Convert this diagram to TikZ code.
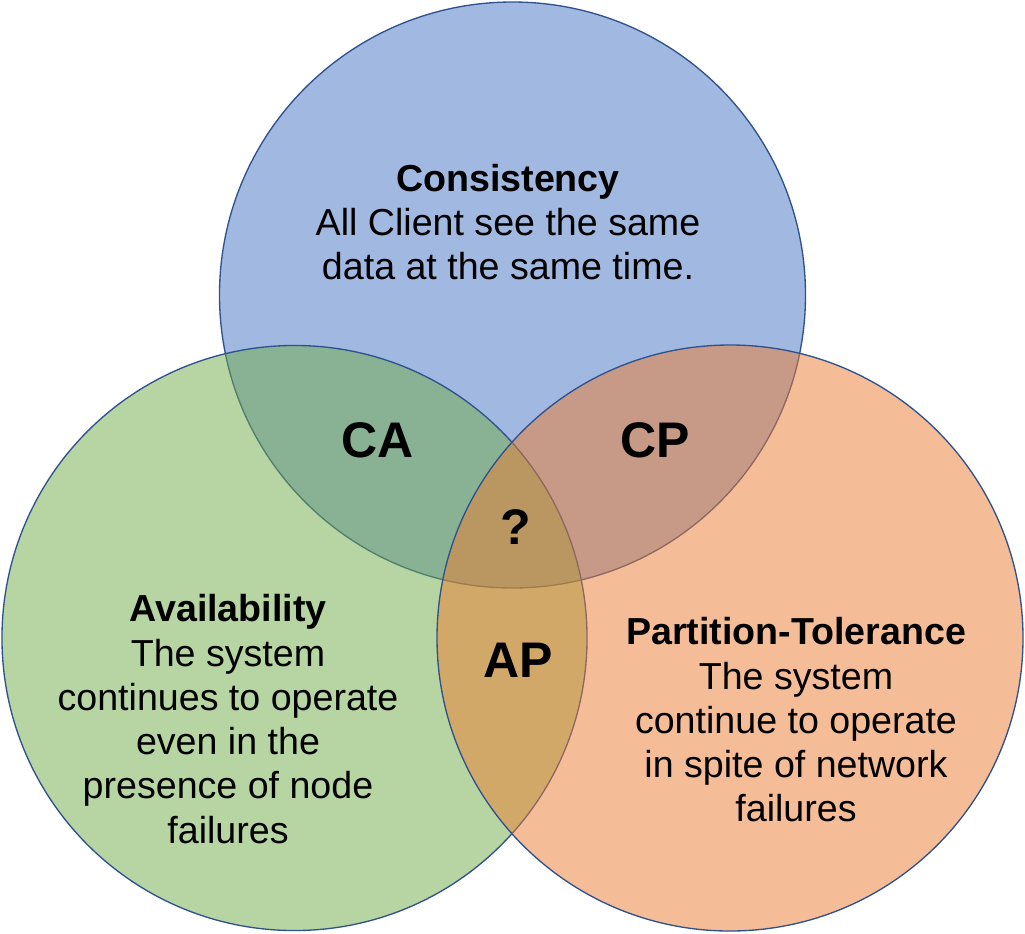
\documentclass[tikz,border=0pt]{standalone}
\usepackage{fontspec}
\setmainfont{Liberation Sans}
\definecolor{cblue}{HTML}{4472C4}
\definecolor{cgreen}{HTML}{70AD47}
\definecolor{corange}{HTML}{ED7D31}
\definecolor{cline}{HTML}{2F528F}
\begin{document}
\begin{tikzpicture}[x=0.75pt,y=-0.75pt,
  setbox/.style={draw=cline,line width=1pt,fill opacity=0.5},
  body/.style={align=center,inner sep=0pt,font=\fontsize{28.2}{33.2}\selectfont},
  pair/.style={inner sep=0pt,font=\fontsize{37.5}{45}\selectfont\bfseries}]
\useasboundingbox[fill=white] (0,0) rectangle (1025,933);
\filldraw[setbox,fill=cblue] (512.5,295) circle [radius=219.75pt];
\filldraw[setbox,fill=cgreen] (294.5,638) circle [radius=219.4pt];
\filldraw[setbox,fill=corange] (730,638) circle [radius=219.75pt];
\node[body] (c) at (508,222) {\textbf{Consistency}\\All Client see the same\\data at the same time.};
\node[body] (a) at (228,719) {\textbf{Availability}\\The system\\continues to operate\\even in the\\presence of node\\failures};
\node[body] (p) at (796,720) {\textbf{Partition-Tolerance}\\The system\\continue to operate\\in spite of network\\failures};
\node[pair] (ca) at (378,440) {CA};
\node[pair] (cp) at (655,440) {CP};
\node[pair] (q) at (516,527) {?};
\node[pair] (ap) at (518,660) {AP};
\end{tikzpicture}
\end{document}
